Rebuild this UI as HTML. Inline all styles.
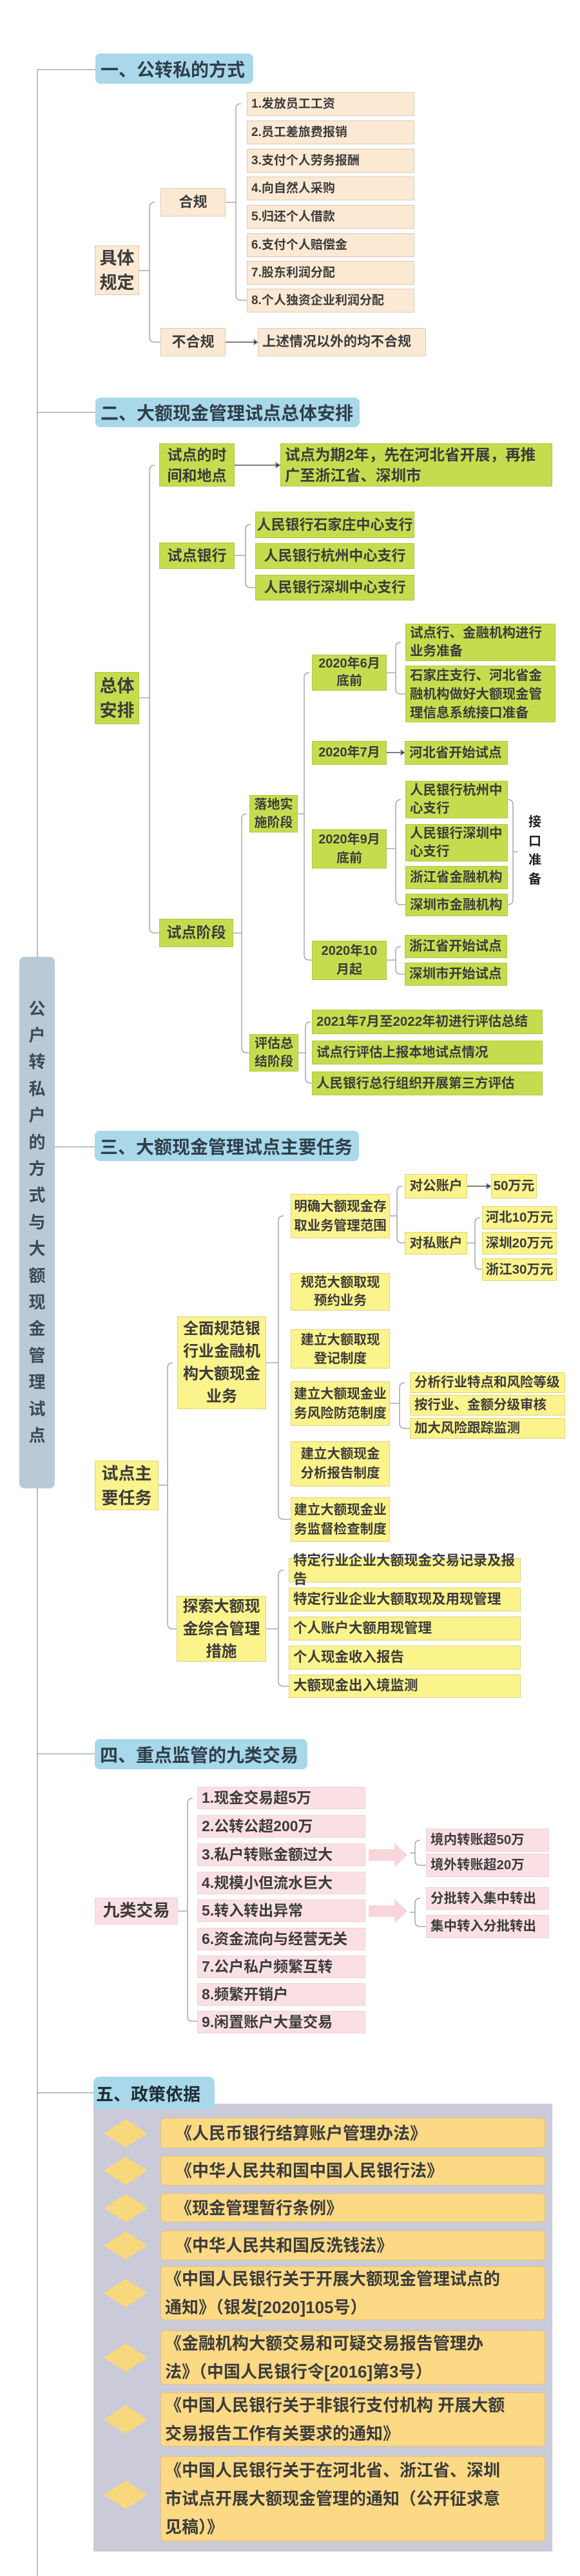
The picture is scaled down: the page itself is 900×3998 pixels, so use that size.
<!DOCTYPE html>
<html><head><meta charset="utf-8">
<style>
*{margin:0;padding:0;box-sizing:border-box}
body{width:900px;height:3998px;background:#fff;position:relative;overflow:hidden;font-family:"Liberation Sans","Noto Sans CJK SC",sans-serif;font-weight:bold;color:#3c3c3c}
.b{position:absolute;display:flex;align-items:center;justify-content:center;text-align:center;border:1px solid #d8d2c8;line-height:1.35}
.l{justify-content:flex-start;text-align:left;padding-left:6px}
.h{position:absolute;background:#a8d8ea;border-radius:8px;display:flex;align-items:center;padding-left:8px;font-size:28px;color:#2f3f4a}
.s1{background:#fbe9d3;border-color:#d9cbb8}
.g{background:#c6dc4f;border-color:#b2c640}
.y{background:#fbf38c;border-color:#ddd57a}
.p{background:#fae0e4;border-color:#f0d2d6}
.o{background:#fbd985;border:1px solid #e6c36a;border-radius:6px;justify-content:flex-start;text-align:left;padding:0 10px 0 22px;font-size:26px;line-height:44px}
svg{position:absolute;left:0;top:0}
</style></head><body>
<svg width="900" height="3998" fill="none" stroke="#9a9a9a" stroke-width="1.3">
<path d="M58 108V3998M58 108H148M58 640H148M58 1780H148M58 2722H148M58 3248H148"/>
<!-- 1 -->
<path d="M216 420H232M240 314Q232 314 232 322V523Q232 531 240 531H249"/>
<path d="M350 314H366M374 161Q366 161 366 169V458Q366 466 374 466H383"/>
<path d="M350 531H396" stroke="#333"/><path d="M394 527L400 531L394 535Z" fill="#333"/>
<!-- 2 -->
<path d="M216 1083H232M240 722Q232 722 232 730V1440Q232 1448 240 1448H247"/>
<path d="M364 722H430" stroke="#333"/><path d="M428 718L435 722L428 726Z" fill="#333"/>
<path d="M364 862H381M389 814Q381 814 381 822V904Q381 912 389 912H396"/>
<path d="M362 1448H375M383 1263Q375 1263 375 1271V1626Q375 1634 383 1634H387"/>
<path d="M462 1263H472M480 1044Q472 1044 472 1052V1482Q472 1490 480 1490H484"/>
<path d="M600 1044H614M622 997Q614 997 614 1005V1069Q614 1077 622 1077H629"/>
<path d="M600 1168H624" stroke="#333"/><path d="M622 1164L628 1168L622 1172Z" fill="#333"/>
<path d="M600 1317H614M622 1241Q614 1241 614 1249V1396Q614 1404 622 1404H629"/>
<path d="M788 1241Q796 1241 796 1249V1396Q796 1404 788 1404M796 1322H804"/>
<path d="M600 1490H614M622 1469Q614 1469 614 1477V1504Q614 1512 622 1512H628"/>
<path d="M463 1634H474M482 1586Q474 1586 474 1594V1673Q474 1681 482 1681H484"/>
<!-- 3 -->
<path d="M246 2305H260M268 2115Q260 2115 260 2123V2520Q260 2528 268 2528H274"/>
<path d="M413 2115H432M440 1887Q432 1887 432 1895V2350Q432 2358 440 2358H451"/>
<path d="M605 1887H616M624 1841Q616 1841 616 1849V1921Q616 1929 624 1929H628"/>
<path d="M725 1841H756" stroke="#333"/><path d="M755 1837L762 1841L755 1845Z" fill="#333"/>
<path d="M725 1929H737M745 1890Q737 1890 737 1898V1962Q737 1970 745 1970H748"/>
<path d="M605 2178H620M628 2146Q620 2146 620 2154V2209Q620 2217 628 2217H636"/>
<path d="M413 2528H432M440 2437Q432 2437 432 2445V2609Q432 2617 440 2617H448"/>
<!-- 4 -->
<path d="M276 2966H291M299 2791Q291 2791 291 2799V3129Q291 3137 299 3137H306"/>
<path d="M652 2856Q644 2856 644 2864V2887Q644 2895 652 2895H661M636 2876H644"/>
<path d="M652 2946Q644 2946 644 2954V2982Q644 2990 652 2990H661M636 2968H644"/>
</svg>
<path/>
<svg width="900" height="3998" style="pointer-events:none">
<path d="M572 2870H612V2860L632 2879L612 2898V2888H572Z" fill="#f8d6dc"/>
<path d="M572 2957H612V2947L632 2966L612 2985V2975H572Z" fill="#f8d6dc"/>
</svg>

<!-- title spine box -->
<div style="position:absolute;left:30px;top:1485px;width:55px;height:825px;background:#b9cad7;border-radius:8px;display:flex;flex-direction:column;align-items:center;justify-content:center;font-size:26px;line-height:41.4px;color:#3d4a55">
<span>公</span><span>户</span><span>转</span><span>私</span><span>户</span><span>的</span><span>方</span><span>式</span><span>与</span><span>大</span><span>额</span><span>现</span><span>金</span><span>管</span><span>理</span><span>试</span><span>点</span></div>

<!-- Section 1 -->
<div class="h" style="left:148px;top:83px;width:245px;height:47px">一、公转私的方式</div>
<div class="b s1 l" style="left:383px;top:143px;width:260px;height:37px;font-size:19px">1.发放员工工资</div>
<div class="b s1 l" style="left:383px;top:187px;width:260px;height:37px;font-size:19px">2.员工差旅费报销</div>
<div class="b s1 l" style="left:383px;top:231px;width:260px;height:37px;font-size:19px">3.支付个人劳务报酬</div>
<div class="b s1 l" style="left:383px;top:274px;width:260px;height:37px;font-size:19px">4.向自然人采购</div>
<div class="b s1 l" style="left:383px;top:318px;width:260px;height:37px;font-size:19px">5.归还个人借款</div>
<div class="b s1 l" style="left:383px;top:362px;width:260px;height:37px;font-size:19px">6.支付个人赔偿金</div>
<div class="b s1 l" style="left:383px;top:405px;width:260px;height:37px;font-size:19px">7.股东利润分配</div>
<div class="b s1 l" style="left:383px;top:448px;width:260px;height:37px;font-size:19px">8.个人独资企业利润分配</div>
<div class="b s1" style="left:249px;top:292px;width:101px;height:44px;font-size:22px">合规</div>
<div class="b s1" style="left:147px;top:381px;width:69px;height:77px;font-size:27px;line-height:38px">具体<br>规定</div>
<div class="b s1" style="left:249px;top:509px;width:101px;height:44px;font-size:22px">不合规</div>
<div class="b s1 l" style="left:400px;top:509px;width:261px;height:44px;font-size:21px">上述情况以外的均不合规</div>

<!-- Section 2 -->
<div class="h" style="left:148px;top:617px;width:410px;height:46px">二、大额现金管理试点总体安排</div>
<div class="b g" style="left:247px;top:688px;width:117px;height:67px;font-size:23px;line-height:32px">试点的时<br>间和地点</div>
<div class="b g l" style="left:435px;top:688px;width:422px;height:67px;font-size:23.5px;line-height:32px">试点为期2年，先在河北省开展，再推<br>广至浙江省、深圳市</div>
<div class="b g" style="left:396px;top:794px;width:247px;height:41px;font-size:22px">人民银行石家庄中心支行</div>
<div class="b g" style="left:396px;top:843px;width:247px;height:40px;font-size:22px">人民银行杭州中心支行</div>
<div class="b g" style="left:396px;top:892px;width:247px;height:40px;font-size:22px">人民银行深圳中心支行</div>
<div class="b g" style="left:247px;top:842px;width:117px;height:41px;font-size:23px">试点银行</div>
<div class="b g" style="left:147px;top:1043px;width:69px;height:81px;font-size:27px;line-height:38px">总体<br>安排</div>
<div class="b g" style="left:484px;top:1016px;width:116px;height:56px;font-size:20px;line-height:27px">2020年6月<br>底前</div>
<div class="b g l" style="left:629px;top:968px;width:233px;height:58px;font-size:20.5px;line-height:28px">试点行、金融机构进行<br>业务准备</div>
<div class="b g l" style="left:629px;top:1033px;width:233px;height:88px;font-size:20.5px;line-height:29px">石家庄支行、河北省金<br>融机构做好大额现金管<br>理信息系统接口准备</div>
<div class="b g" style="left:484px;top:1150px;width:116px;height:37px;font-size:20px">2020年7月</div>
<div class="b g l" style="left:628px;top:1150px;width:160px;height:37px;font-size:20.5px">河北省开始试点</div>
<div class="b g l" style="left:629px;top:1212px;width:159px;height:58px;font-size:20.5px;line-height:28px">人民银行杭州中<br>心支行</div>
<div class="b g l" style="left:629px;top:1279px;width:159px;height:58px;font-size:20.5px;line-height:28px">人民银行深圳中<br>心支行</div>
<div class="b g l" style="left:629px;top:1344px;width:159px;height:36px;font-size:20.5px">浙江省金融机构</div>
<div class="b g l" style="left:629px;top:1387px;width:159px;height:35px;font-size:20.5px">深圳市金融机构</div>
<div style="position:absolute;left:818px;top:1262px;width:24px;font-size:20px;line-height:29.5px;text-align:center;color:#222">接<br>口<br>准<br>备</div>
<div class="b g" style="left:387px;top:1234px;width:75px;height:58px;font-size:20px;line-height:28px">落地实<br>施阶段</div>
<div class="b g" style="left:484px;top:1287px;width:116px;height:61px;font-size:20px;line-height:29px">2020年9月<br>底前</div>
<div class="b g" style="left:247px;top:1426px;width:115px;height:44px;font-size:23px">试点阶段</div>
<div class="b g" style="left:484px;top:1460px;width:116px;height:61px;font-size:20px;line-height:29px">2020年10<br>月起</div>
<div class="b g l" style="left:628px;top:1451px;width:159px;height:36px;font-size:20.5px">浙江省开始试点</div>
<div class="b g l" style="left:628px;top:1494px;width:159px;height:36px;font-size:20.5px">深圳市开始试点</div>
<div class="b g" style="left:387px;top:1605px;width:76px;height:58px;font-size:20px;line-height:28px">评估总<br>结阶段</div>
<div class="b g l" style="left:484px;top:1567px;width:358px;height:38px;font-size:20.5px">2021年7月至2022年初进行评估总结</div>
<div class="b g l" style="left:484px;top:1615px;width:358px;height:37px;font-size:20.5px">试点行评估上报本地试点情况</div>
<div class="b g l" style="left:484px;top:1663px;width:358px;height:37px;font-size:20.5px">人民银行总行组织开展第三方评估</div>

<!-- Section 3 -->
<div class="h" style="left:147px;top:1755px;width:410px;height:47px">三、大额现金管理试点主要任务</div>
<div class="b y" style="left:628px;top:1822px;width:97px;height:38px;font-size:20.5px">对公账户</div>
<div class="b y" style="left:762px;top:1822px;width:71px;height:38px;font-size:20.5px">50万元</div>
<div class="b y" style="left:451px;top:1853px;width:154px;height:69px;font-size:20.5px;line-height:30px">明确大额现金存<br>取业务管理范围</div>
<div class="b y" style="left:748px;top:1872px;width:116px;height:36px;font-size:20.5px">河北10万元</div>
<div class="b y" style="left:748px;top:1912px;width:116px;height:35px;font-size:20.5px">深圳20万元</div>
<div class="b y" style="left:748px;top:1953px;width:116px;height:35px;font-size:20.5px">浙江30万元</div>
<div class="b y" style="left:628px;top:1912px;width:97px;height:35px;font-size:20.5px">对私账户</div>
<div class="b y" style="left:451px;top:1976px;width:154px;height:58px;font-size:20.5px;line-height:28px">规范大额取现<br>预约业务</div>
<div class="b y" style="left:451px;top:2063px;width:154px;height:61px;font-size:20.5px;line-height:29px">建立大额取现<br>登记制度</div>
<div class="b y" style="left:451px;top:2144px;width:154px;height:69px;font-size:20.5px;line-height:30px">建立大额现金业<br>务风险防范制度</div>
<div class="b y" style="left:451px;top:2237px;width:154px;height:70px;font-size:20.5px;line-height:30px">建立大额现金<br>分析报告制度</div>
<div class="b y" style="left:451px;top:2324px;width:154px;height:69px;font-size:20.5px;line-height:30px">建立大额现金业<br>务监督检查制度</div>
<div class="b y l" style="left:636px;top:2130px;width:241px;height:32px;font-size:20.5px">分析行业特点和风险等级</div>
<div class="b y l" style="left:636px;top:2165px;width:241px;height:32px;font-size:20.5px">按行业、金额分级审核</div>
<div class="b y l" style="left:636px;top:2201px;width:241px;height:32px;font-size:20.5px">加大风险跟踪监测</div>
<div class="b y" style="left:275px;top:2043px;width:138px;height:144px;font-size:24px;line-height:35px">全面规范银<br>行业金融机<br>构大额现金<br>业务</div>
<div class="b y" style="left:147px;top:2267px;width:99px;height:77px;font-size:26px;line-height:38px">试点主<br>要任务</div>
<div class="b y" style="left:274px;top:2477px;width:139px;height:102px;font-size:24px;line-height:35px">探索大额现<br>金综合管理<br>措施</div>
<div class="b y l" style="left:448px;top:2418px;width:360px;height:38px;font-size:21.5px">特定行业企业大额现金交易记录及报告</div>
<div class="b y l" style="left:448px;top:2464px;width:360px;height:37px;font-size:21.5px">特定行业企业大额取现及用现管理</div>
<div class="b y l" style="left:448px;top:2509px;width:360px;height:37px;font-size:21.5px">个人账户大额用现管理</div>
<div class="b y l" style="left:448px;top:2554px;width:360px;height:37px;font-size:21.5px">个人现金收入报告</div>
<div class="b y l" style="left:448px;top:2599px;width:360px;height:36px;font-size:21.5px">大额现金出入境监测</div>

<!-- Section 4 -->
<div class="h" style="left:147px;top:2699px;width:330px;height:47px">四、重点监管的九类交易</div>
<div class="b p l" style="left:306px;top:2773px;width:261px;height:35px;font-size:23px">1.现金交易超5万</div>
<div class="b p l" style="left:306px;top:2817px;width:261px;height:35px;font-size:23px">2.公转公超200万</div>
<div class="b p l" style="left:306px;top:2861px;width:261px;height:35px;font-size:23px">3.私户转账金额过大</div>
<div class="b p l" style="left:306px;top:2905px;width:261px;height:35px;font-size:23px">4.规模小但流水巨大</div>
<div class="b p l" style="left:306px;top:2948px;width:261px;height:35px;font-size:23px">5.转入转出异常</div>
<div class="b p l" style="left:306px;top:2992px;width:261px;height:35px;font-size:23px">6.资金流向与经营无关</div>
<div class="b p l" style="left:306px;top:3035px;width:261px;height:35px;font-size:23px">7.公户私户频繁互转</div>
<div class="b p l" style="left:306px;top:3078px;width:261px;height:35px;font-size:23px">8.频繁开销户</div>
<div class="b p l" style="left:306px;top:3121px;width:261px;height:35px;font-size:23px">9.闲置账户大量交易</div>
<div class="b p" style="left:147px;top:2945px;width:129px;height:42px;font-size:26px">九类交易</div>
<div class="b p l" style="left:661px;top:2838px;width:191px;height:36px;font-size:20.5px">境内转账超50万</div>
<div class="b p l" style="left:661px;top:2877px;width:191px;height:36px;font-size:20.5px">境外转账超20万</div>
<div class="b p l" style="left:661px;top:2929px;width:191px;height:35px;font-size:20.5px">分批转入集中转出</div>
<div class="b p l" style="left:661px;top:2972px;width:191px;height:36px;font-size:20.5px">集中转入分批转出</div>

<!-- Section 5 -->
<div style="position:absolute;left:145px;top:3265px;width:712px;height:695px;background:#cbcad9"></div>
<div class="h" style="left:145px;top:3223px;width:188px;height:50px;border-radius:10px 10px 0 0;padding-left:4px;font-size:27px;color:#1f2d36">五、政策依据</div>
<div class="o b" style="left:249px;top:3287px;width:597px;height:47px">《人民币银行结算账户管理办法》</div>
<div class="o b" style="left:249px;top:3346px;width:597px;height:46px">《中华人民共和国中国人民银行法》</div>
<div class="o b" style="left:249px;top:3404px;width:597px;height:45px">《现金管理暂行条例》</div>
<div class="o b" style="left:249px;top:3462px;width:597px;height:46px">《中华人民共和国反洗钱法》</div>
<div class="o b" style="left:249px;top:3517px;width:597px;height:84px;padding-left:6px">《中国人民银行关于开展大额现金管理试点的<br>通知》（银发[2020]105号）</div>
<div class="o b" style="left:249px;top:3617px;width:597px;height:84px;padding-left:6px">《金融机构大额交易和可疑交易报告管理办<br>法》（中国人民银行令[2016]第3号）</div>
<div class="o b" style="left:249px;top:3713px;width:597px;height:84px;padding-left:6px">《中国人民银行关于非银行支付机构 开展大额<br>交易报告工作有关要求的通知》</div>
<div class="o b" style="left:249px;top:3812px;width:597px;height:132px;padding-left:6px">《中国人民银行关于在河北省、浙江省、深圳<br>市试点开展大额现金管理的通知（公开征求意<br>见稿）》</div>
<svg width="900" height="3998">
<g fill="#f8d87c">
<path d="M195 3289L229 3311L195 3333L161 3311Z"/>
<path d="M195 3347L229 3369L195 3391L161 3369Z"/>
<path d="M195 3405L229 3427L195 3449L161 3427Z"/>
<path d="M195 3463L229 3485L195 3507L161 3485Z"/>
<path d="M195 3537L229 3559L195 3581L161 3559Z"/>
<path d="M195 3637L229 3659L195 3681L161 3659Z"/>
<path d="M195 3733L229 3755L195 3777L161 3755Z"/>
<path d="M195 3850L229 3872L195 3894L161 3872Z"/>
</g></svg>
</body></html>
